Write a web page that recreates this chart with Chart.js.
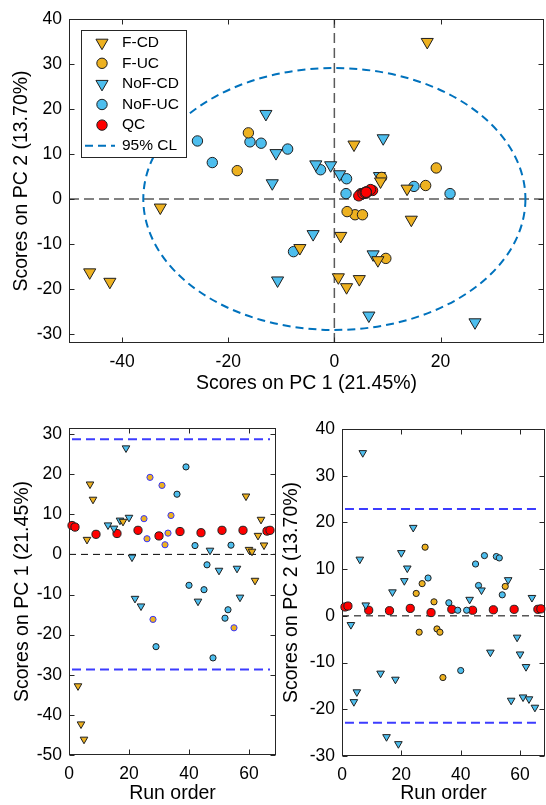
<!DOCTYPE html>
<html>
<head>
<meta charset="utf-8">
<script src="https://cdn.jsdelivr.net/npm/chart.js@4.4.1/dist/chart.umd.min.js"></script>
<style>
  html, body { margin: 0; padding: 0; background: #fff; }
  body { width: 546px; height: 805px; position: relative; overflow: hidden; }
  canvas { position: absolute; }
</style>
</head>
<body>
<canvas id="scores" width="546" height="405" style="left:0;top:0"></canvas>
<canvas id="pc1run" width="280" height="395" style="left:0;top:410px"></canvas>
<canvas id="pc2run" width="271" height="395" style="left:275px;top:410px"></canvas>
<script>
// ---- data ----
const groupNames = ['F-CD', 'F-UC', 'NoF-CD', 'NoF-UC', 'QC'];

const runOrder = [1, 2, 3, 4, 5, 6, 7, 8, 9, 13, 15, 16, 17, 18, 19, 20, 21, 22, 23, 24,
  25, 26, 27, 28, 29, 30, 31, 32, 33, 34, 36, 37, 39, 40, 42, 43, 44, 45, 46, 47,
  48, 50, 51, 52, 53, 54, 55, 56, 57, 58, 59, 60, 61, 62, 63, 64, 65, 66, 67];

const sampleGroup = ['QC', 'QC', 'F-CD', 'F-CD', 'F-CD', 'F-CD', 'F-CD', 'F-CD', 'QC', 'NoF-CD',
  'NoF-CD', 'QC', 'NoF-CD', 'F-CD', 'NoF-CD', 'NoF-CD', 'NoF-CD', 'NoF-CD', 'QC', 'NoF-CD',
  'F-UC', 'F-UC', 'F-UC', 'F-UC', 'NoF-UC', 'QC', 'F-UC', 'F-UC', 'F-UC', 'F-UC',
  'NoF-UC', 'QC', 'NoF-UC', 'NoF-UC', 'NoF-UC', 'NoF-CD', 'QC', 'NoF-UC', 'NoF-UC', 'NoF-CD',
  'NoF-UC', 'NoF-CD', 'QC', 'NoF-UC', 'NoF-UC', 'NoF-UC', 'F-UC', 'NoF-CD', 'NoF-CD', 'QC',
  'F-CD', 'F-CD', 'F-CD', 'F-CD', 'F-CD', 'F-CD', 'F-CD', 'QC', 'QC'];

const pc1Scores = [7.2, 6.8, -32.8, -42.3, -46.1, 3.7, 17.5, 13.7, 5.0, 7.3,
  6.5, 5.2, 8.5, 8.2, 26.5, 9.2, -0.7, -11.0, 6.0, -12.9,
  8.9, 3.9, 19.2, -16.2, -23.0, 4.6, 17.2, 2.4, 5.3, 9.7,
  15.0, 5.7, 21.8, -7.7, 2.2, -11.7, 5.4, -8.8, -2.6, 1.0,
  -25.8, -4.0, 6.0, -15.9, -13.8, 2.3, -18.3, -3.5, -10.7, 6.0,
  14.5, 1.2, 0.75, -6.5, 4.7, 8.7, 2.3, 5.8, 6.0];

const pc2Scores = [1.9, 2.1, -1.9, -18.4, -16.3, 12.1, 34.9, 2.3, 1.2, -12.3,
  -25.9, 1.1, 5.1, -13.6, -27.4, 13.5, 7.5, 10.2, 1.6, 18.9,
  4.8, -3.5, 6.9, 14.7, 8.1, 0.7, 3.0, -2.8, -3.5, -13.2,
  2.8, 1.4, 1.2, -11.7, 1.2, 3.5, 1.2, 11.1, 6.5, 5.5,
  12.9, -7.8, 1.3, 12.7, 12.4, 4.5, 6.3, 7.7, -18.1, 1.4,
  -4.6, -8.2, -17.4, -10.9, -17.8, 3.9, -19.6, 1.4, 1.5];

// 95% confidence ellipse (semi axes on PC1, PC2) and control limits
const clEllipseAxes = [36, 29.1];
const pc1ControlLimits = [28.7, -28.7];
const pc2ControlLimits = [22.9, -22.9];

// tick labels
const scoreXTicks = [-40, -20, 0, 20];
const scoreYTicks = [-30, -20, -10, 0, 10, 20, 30, 40];
const runTicks = [0, 20, 40, 60];
const pc1RunTicks = [-50, -40, -30, -20, -10, 0, 10, 20, 30];
const pc2RunTicks = [-30, -20, -10, 0, 10, 20, 30, 40];

// ---- styles ----
const FONT = '"Liberation Sans", Arial, Helvetica, sans-serif';
const ORANGE = '#EDB120', SKY = '#4DBEEE', RED = '#FF0000';
const EDGE = '#1f1f1f', TEXT = '#000000', AXIS = '#262626';
const TICK_LEN = 5;

const scoreStyle = {
  'F-CD':   { shape: 'tri', fill: ORANGE, r: 7 },
  'F-UC':   { shape: 'dot', fill: ORANGE, r: 5.2 },
  'NoF-CD': { shape: 'tri', fill: SKY, r: 7 },
  'NoF-UC': { shape: 'dot', fill: SKY, r: 5.2 },
  'QC':     { shape: 'dot', fill: RED, r: 5.2 }
};
const pc1RunStyle = {
  'F-CD':   { shape: 'tri', fill: ORANGE, r: 4.4 },
  'F-UC':   { shape: 'dot', fill: ORANGE, r: 3.1, edge: '#3535ff' },
  'NoF-CD': { shape: 'tri', fill: SKY, r: 4.4 },
  'NoF-UC': { shape: 'dot', fill: SKY, r: 3.1 },
  'QC':     { shape: 'dot', fill: RED, r: 4.1 }
};
const pc2RunStyle = {
  'F-CD':   { shape: 'tri', fill: SKY, r: 4.4 },
  'F-UC':   { shape: 'dot', fill: ORANGE, r: 3.1 },
  'NoF-CD': { shape: 'tri', fill: SKY, r: 4.4 },
  'NoF-UC': { shape: 'dot', fill: SKY, r: 3.1 },
  'QC':     { shape: 'dot', fill: RED, r: 4.1 }
};

function groupDatasets(xVals, yVals, styles) {
  return groupNames.map(function (g) {
    const s = styles[g];
    const pts = [];
    sampleGroup.forEach(function (sg, i) {
      if (sg === g) pts.push({ x: xVals[i], y: yVals[i] });
    });
    return {
      label: g,
      data: pts,
      pointStyle: s.shape === 'tri' ? 'triangle' : 'circle',
      pointRotation: s.shape === 'tri' ? 180 : 0,
      pointRadius: s.r,
      pointHoverRadius: s.r,
      pointBackgroundColor: s.fill,
      pointBorderColor: s.edge || EDGE,
      pointBorderWidth: 1,
      clip: false
    };
  });
}

// dashed reference lines + CL ellipse, drawn under the markers
function guidesPlugin(lines, ellipse) {
  return {
    id: 'guides',
    beforeDatasetsDraw: function (chart) {
      const ctx = chart.ctx, a = chart.chartArea, x = chart.scales.x, y = chart.scales.y;
      ctx.save();
      ctx.beginPath();
      ctx.rect(a.left, a.top, a.right - a.left, a.bottom - a.top);
      ctx.clip();
      lines.forEach(function (l) {
        ctx.beginPath();
        ctx.setLineDash(l.dash);
        ctx.lineWidth = l.width;
        ctx.strokeStyle = l.color;
        if (l.axis === 'y') {
          const py = y.getPixelForValue(l.value);
          ctx.moveTo(l.from != null ? x.getPixelForValue(l.from) : a.left, py);
          ctx.lineTo(l.to != null ? x.getPixelForValue(l.to) : a.right, py);
        } else {
          const px = x.getPixelForValue(l.value);
          ctx.moveTo(px, a.bottom);
          ctx.lineTo(px, a.top);
        }
        ctx.stroke();
      });
      if (ellipse) {
        const cx = x.getPixelForValue(0), cy = y.getPixelForValue(0);
        const rx = Math.abs(x.getPixelForValue(ellipse.axes[0]) - cx);
        const ry = Math.abs(y.getPixelForValue(ellipse.axes[1]) - cy);
        ctx.beginPath();
        ctx.setLineDash(ellipse.dash);
        ctx.lineWidth = ellipse.width;
        ctx.strokeStyle = ellipse.color;
        ctx.ellipse(cx, cy, rx, ry, 0, 0, Math.PI * 2);
        ctx.stroke();
      }
      ctx.restore();
    }
  };
}

// MATLAB style box with inward ticks on all four sides
const framePlugin = {
  id: 'frame',
  beforeDatasetsDraw: function (chart) {
    const ctx = chart.ctx, a = chart.chartArea, sx = chart.scales.x, sy = chart.scales.y;
    const L = Math.round(a.left) + 0.5, R = Math.round(a.right) - 0.5;
    const T = Math.round(a.top) + 0.5, B = Math.round(a.bottom) - 0.5;
    ctx.save();
    ctx.setLineDash([]);
    ctx.strokeStyle = AXIS;
    ctx.lineWidth = 1;
    ctx.strokeRect(L, T, R - L, B - T);
    ctx.beginPath();
    sx.ticks.forEach(function (t) {
      const px = Math.round(sx.getPixelForValue(t.value)) + 0.5;
      ctx.moveTo(px, B); ctx.lineTo(px, B - TICK_LEN);
      ctx.moveTo(px, T); ctx.lineTo(px, T + TICK_LEN);
    });
    sy.ticks.forEach(function (t) {
      const py = Math.round(sy.getPixelForValue(t.value)) + 0.5;
      ctx.moveTo(L, py); ctx.lineTo(L + TICK_LEN, py);
      ctx.moveTo(R, py); ctx.lineTo(R - TICK_LEN, py);
    });
    ctx.stroke();
    ctx.restore();
  }
};

function drawMarker(ctx, s, x, y) {
  ctx.beginPath();
  if (s.shape === 'tri') {
    const h = s.r * Math.sin(Math.PI / 3);
    ctx.moveTo(x, y + s.r);
    ctx.lineTo(x - h, y - s.r / 2);
    ctx.lineTo(x + h, y - s.r / 2);
    ctx.closePath();
  } else {
    ctx.arc(x, y, s.r, 0, Math.PI * 2);
  }
  ctx.fillStyle = s.fill;
  ctx.fill();
  ctx.setLineDash([]);
  ctx.lineWidth = 1;
  ctx.strokeStyle = s.edge || EDGE;
  ctx.stroke();
}

// legend box inside the scores plot
const legendPlugin = {
  id: 'scoreLegend',
  afterDraw: function (chart) {
    const ctx = chart.ctx, a = chart.chartArea;
    const x0 = Math.round(a.left) + 12, y0 = Math.round(a.top) + 11, w = 105, h = 127;
    ctx.save();
    ctx.fillStyle = '#ffffff';
    ctx.fillRect(x0, y0, w, h);
    ctx.strokeStyle = AXIS;
    ctx.lineWidth = 1;
    ctx.strokeRect(x0 + 0.5, y0 + 0.5, w, h);
    ctx.font = '15.5px ' + FONT;
    ctx.textBaseline = 'middle';
    const labels = groupNames.concat(['95% CL']);
    labels.forEach(function (lab, i) {
      const cy = y0 + 12.7 + i * 20.6;
      if (i < groupNames.length) {
        drawMarker(ctx, scoreStyle[lab], x0 + 21, cy);
      } else {
        ctx.beginPath();
        ctx.setLineDash([8, 5]);
        ctx.lineWidth = 2;
        ctx.strokeStyle = '#0072BD';
        ctx.moveTo(x0 + 4, cy);
        ctx.lineTo(x0 + 34, cy);
        ctx.stroke();
      }
      ctx.fillStyle = TEXT;
      ctx.fillText(lab, x0 + 41, cy);
    });
    ctx.restore();
  }
};

function axis(a, horizontal) {
  return {
    type: 'linear',
    min: a.min,
    max: a.max,
    afterBuildTicks: function (s) { s.ticks = a.ticks.map(function (v) { return { value: v }; }); },
    afterFit: function (s) {
      if (horizontal) s.height = a.size; else s.width = a.size;
      // keep the plot box where the layout padding puts it
      s.paddingLeft = 0; s.paddingRight = 0; s.paddingTop = 0; s.paddingBottom = 0;
    },
    grid: { display: false, drawTicks: false },
    border: { display: false },
    ticks: { color: TEXT, font: { family: FONT, size: 17.5 }, padding: a.tickPad, autoSkip: false, maxRotation: 0 },
    title: {
      display: true, text: a.title, color: TEXT,
      font: { family: FONT, size: 19.5, lineHeight: 1.2 },
      padding: horizontal ? { top: 0, bottom: a.titlePad } : { top: a.titlePad, bottom: 0 }
    }
  };
}

function panel(id, cfg) {
  return new Chart(document.getElementById(id), {
    type: 'scatter',
    data: { datasets: cfg.datasets },
    options: {
      responsive: false,
      animation: false,
      events: [],
      layout: { padding: cfg.padding, autoPadding: false },
      plugins: { legend: { display: false }, tooltip: { enabled: false } },
      scales: { x: axis(cfg.x, true), y: axis(cfg.y, false) }
    },
    plugins: cfg.plugins
  });
}

const runSpan = [runOrder[0], runOrder[runOrder.length - 1]];

// top: PC1 vs PC2 scores
panel('scores', {
  datasets: groupDatasets(pc1Scores, pc2Scores, scoreStyle),
  padding: { left: 0, top: 19, right: 2, bottom: 0 },
  x: { min: -50, max: 39.5, ticks: scoreXTicks, size: 62, tickPad: 9, titlePad: 10, title: 'Scores on PC 1 (21.45%)' },
  y: { min: -32, max: 40, ticks: scoreYTicks, size: 69, tickPad: 7, titlePad: 10, title: 'Scores on PC 2 (13.70%)' },
  plugins: [
    guidesPlugin([
      { axis: 'y', value: 0, color: '#5a5a5a', width: 1.5, dash: [10, 5] },
      { axis: 'x', value: 0, color: '#5a5a5a', width: 1.5, dash: [10, 5] }
    ], { axes: clEllipseAxes, color: '#0072BD', width: 2, dash: [8, 5] }),
    framePlugin,
    legendPlugin
  ]
});

// bottom left: PC1 vs run order
panel('pc1run', {
  datasets: groupDatasets(runOrder, pc1Scores, pc1RunStyle),
  padding: { left: 0, top: 18, right: 4, bottom: 0 },
  x: { min: 0, max: 69, ticks: runTicks, size: 50, tickPad: 8.5, titlePad: 0, title: 'Run order' },
  y: { min: -50, max: 31.5, ticks: pc1RunTicks, size: 69, tickPad: 7, titlePad: 11, title: 'Scores on PC 1 (21.45%)' },
  plugins: [
    guidesPlugin([
      { axis: 'y', value: 0, color: '#000000', width: 1, dash: [7, 5] },
      { axis: 'y', value: pc1ControlLimits[0], from: runSpan[0], to: runSpan[1], color: '#3c3cff', width: 2, dash: [9, 5] },
      { axis: 'y', value: pc1ControlLimits[1], from: runSpan[0], to: runSpan[1], color: '#3c3cff', width: 2, dash: [9, 5] }
    ], null),
    framePlugin
  ]
});

// bottom right: PC2 vs run order
panel('pc2run', {
  datasets: groupDatasets(runOrder, pc2Scores, pc2RunStyle),
  padding: { left: 0, top: 19, right: 1, bottom: 0 },
  x: { min: 0, max: 68.4, ticks: runTicks, size: 49, tickPad: 8.5, titlePad: 0, title: 'Run order' },
  y: { min: -30, max: 40, ticks: pc2RunTicks, size: 67, tickPad: 7, titlePad: 5, title: 'Scores on PC 2 (13.70%)' },
  plugins: [
    guidesPlugin([
      { axis: 'y', value: 0, color: '#000000', width: 1, dash: [7, 5] },
      { axis: 'y', value: pc2ControlLimits[0], from: runSpan[0], to: runSpan[1], color: '#3c3cff', width: 2, dash: [9, 5] },
      { axis: 'y', value: pc2ControlLimits[1], from: runSpan[0], to: runSpan[1], color: '#3c3cff', width: 2, dash: [9, 5] }
    ], null),
    framePlugin
  ]
});
</script>
</body>
</html>
